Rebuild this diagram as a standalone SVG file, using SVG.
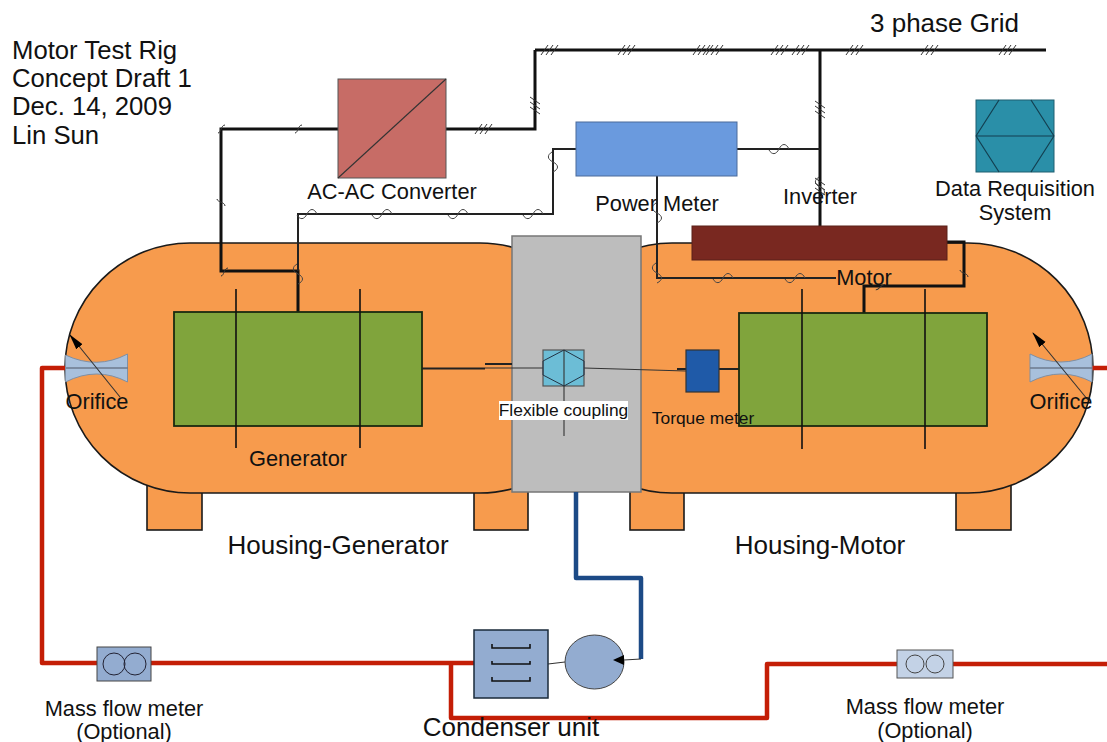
<svg xmlns="http://www.w3.org/2000/svg" xmlns:xlink="http://www.w3.org/1999/xlink" width="1107" height="742" viewBox="0 0 1107 742">
<style>
text{font-family:"Liberation Sans",Arial,sans-serif;fill:#111;transform:translateY(1px)}
.m{text-anchor:middle}
.orange{fill:#f79b4d;stroke:#1a1a1a;stroke-width:1.6}
.green{fill:#80a43c;stroke:#1a2a10;stroke-width:1.8}
.ln{fill:none;stroke:#111;stroke-width:1.6}
.thin{fill:none;stroke:#333;stroke-width:1.1}
.thick{fill:none;stroke:#111;stroke-width:3}
.med{fill:none;stroke:#222;stroke-width:2}
.red{fill:none;stroke:#c41e06;stroke-width:4.5;stroke-linejoin:round}
.blue{fill:none;stroke:#1c4a86;stroke-width:4.5;stroke-linejoin:round}
.tick{fill:none;stroke:#333;stroke-width:1}
.wave{fill:none;stroke:#444;stroke-width:1}
.orf{fill:#a8c0dc;stroke:#7f8fa4;stroke-width:1}
.lg{font-size:26px}
.tl{font-size:25.700px}
.md{font-size:21.800px}
.sm{font-size:17.400px}
</style>
<defs>
<g id="slash"><path class="tick" d="M-9 5L-2 -5M-4 5L3 -5M1 5L8 -5"/></g>
<g id="wavy"><path class="wave" d="M-10 1C-7 6-3 6 0 0C3-6 7-6 10 0"/></g>
<g id="hook"><path class="tick" d="M-3 4C0 4 0 -4 4 -4"/></g>
<marker id="ah" markerWidth="16" markerHeight="10" refX="15" refY="5" orient="auto" markerUnits="userSpaceOnUse"><path d="M0 1L16 5L0 9Z" fill="#000"/></marker>
</defs>

<g id="housing-generator">
<rect class="orange" x="147" y="470" width="55" height="60"/>
<rect class="orange" x="474" y="470" width="54" height="60"/>
<rect class="orange" x="65" y="243" width="540" height="250" rx="125" ry="125"/>
</g>
<g id="housing-motor">
<rect class="orange" x="630" y="470" width="54" height="60"/>
<rect class="orange" x="956" y="470" width="55" height="60"/>
<rect class="orange" x="547" y="243" width="546" height="250" rx="125" ry="125"/>
</g>
<g id="shaft-housing"><rect x="512" y="236" width="129" height="256" fill="#bdbdbd" stroke="#777" stroke-width="1.5"/></g>

<g id="connectors">
<path class="red" d="M66 368H42V663H97M151 663H474M451 663V718H767V664H897M953 664H1107M1091 368H1107"/>
<path class="blue" d="M576 492V578H641V659"/>
<path class="thin" d="M641 659L624 660M548 664L565 662"/>
<path class="thick" d="M535 50H1046M535 50V129H446M820 50V226M338 129H221V271H298V312M947 242H964V286H864V313"/>
<path class="med" d="M576 149H553V214H298V271M737 149H820M657 176V278H836"/>
<path class="med" d="M422 368.500H485M485 364H512M719 369H739M677 369H686"/>
<path class="thin" d="M485 368H543M584 368L686 371"/>
<g>
<use xlink:href="#slash" x="550" y="50"/><use xlink:href="#slash" x="627" y="50"/><use xlink:href="#slash" x="702" y="50"/><use xlink:href="#slash" x="715" y="50"/><use xlink:href="#slash" x="780" y="50"/><use xlink:href="#slash" x="801" y="50"/><use xlink:href="#slash" x="855" y="50"/><use xlink:href="#slash" x="930" y="50"/><use xlink:href="#slash" x="1008" y="50"/><use xlink:href="#slash" x="484" y="129"/>
<use xlink:href="#slash" transform="translate(535 106) rotate(90)"/><use xlink:href="#slash" transform="translate(820 110) rotate(90)"/><use xlink:href="#slash" transform="translate(820 187) rotate(90)"/>
<use xlink:href="#wavy" x="307" y="214"/><use xlink:href="#wavy" x="382" y="214"/><use xlink:href="#wavy" x="458" y="214"/><use xlink:href="#wavy" x="533" y="214"/><use xlink:href="#wavy" x="779" y="149"/><use xlink:href="#wavy" x="723" y="278"/><use xlink:href="#wavy" x="795" y="278"/>
<use xlink:href="#wavy" transform="translate(553 162) rotate(90)"/><use xlink:href="#wavy" transform="translate(657 213) rotate(90)"/><use xlink:href="#wavy" transform="translate(657 273) rotate(90)"/><use xlink:href="#wavy" transform="translate(298 274) rotate(90)"/><use xlink:href="#wavy" transform="translate(820 187) rotate(90)"/>
<use xlink:href="#hook" x="298" y="129"/><use xlink:href="#hook" x="221" y="129"/><use xlink:href="#hook" transform="translate(221 202) rotate(90)"/><use xlink:href="#hook" x="224" y="272"/><use xlink:href="#hook" transform="translate(964 273) rotate(90)"/><use xlink:href="#hook" transform="translate(880 287) rotate(20)"/>
</g>
</g>

<g id="generator">
<rect class="green" x="174" y="312" width="248" height="114"/>
<path class="ln" d="M236 289V448M360 289V448"/>
<text x="298" y="465" class="md m">Generator</text>
</g>
<g id="motor">
<rect class="green" x="739" y="313" width="248" height="113"/>
<path class="ln" d="M802 289V449M925 289V449"/>
</g>
<g id="orifice-left">
<path class="orf" d="M65.500 355Q97 370 127.500 354V382Q97 366 65.500 382Z"/>
<path d="M66 368H128" stroke="#6c7a8e" stroke-width="1.6"/>
<path class="thin" d="M120 397L70 335" marker-end="url(#ah)"/>
<text x="97" y="408" class="md m">Orifice</text>
</g>
<g id="orifice-right">
<path class="orf" d="M1030 354Q1061 370 1092 354V382Q1061 366 1030 382Z"/>
<path d="M1030 368H1092" stroke="#6c7a8e" stroke-width="1.6"/>
<path class="thin" d="M1088 400L1033 333" marker-end="url(#ah)"/>
<text x="1061" y="408" class="md m">Orifice</text>
</g>
<g id="converter">
<rect x="338" y="79" width="108" height="99" fill="#c76c66" stroke="#555" stroke-width="1"/>
<path class="thin" d="M338 178L446 79"/>
<text x="392" y="198" class="md m">AC-AC Converter</text>
</g>
<g id="power-meter">
<rect x="576" y="122" width="161" height="54" fill="#6a9ade" stroke="#4a6a9a" stroke-width="1"/>
<text x="657" y="210" class="md m">Power Meter</text>
</g>
<g id="inverter">
<rect x="692" y="226" width="255" height="34" fill="#792820" stroke="#5a2018" stroke-width="1"/>
<text x="820" y="203" class="md m">Inverter</text>
<text x="864" y="284" class="md m">Motor</text>
</g>
<g id="grid"><text x="870" y="31" class="lg">3 phase Grid</text></g>
<g id="daq">
<rect x="976" y="100" width="78" height="72" fill="#2a8fa8" stroke="#1f5f70" stroke-width="1"/>
<path d="M976 136H1054M976 136L999 100M1054 136L1031 100M976 136L999 172M1054 136L1031 172" stroke="#133f50" stroke-width="1.2" fill="none"/>
<text x="1015" y="195" class="md m">Data Requisition</text>
<text x="1015" y="219" class="md m">System</text>
</g>
<g id="coupling">
<rect x="543" y="350" width="41" height="36" fill="#6cbdd6" stroke="#555" stroke-width="1.2"/>
<path d="M543 361L564 350L584 361V375L564 386L543 375Z" fill="none" stroke="#234" stroke-width="1"/>
<path class="thin" d="M564 350V436"/>
<rect x="499" y="401" width="129" height="19" fill="#fff"/>
<text x="563.500" y="415" class="sm m">Flexible coupling</text>
</g>
<g id="torque-meter">
<rect x="686" y="350" width="33" height="42" fill="#1f5aa8" stroke="#333" stroke-width="1.2"/>
<text x="703" y="423" class="sm m">Torque meter</text>
</g>
<g id="condenser">
<rect x="474" y="630" width="74" height="68" fill="#93acd0" stroke="#1a2a3a" stroke-width="1.5"/>
<path class="ln" d="M492 644V648H530V644M492 661V664H530V661M492 677V681H530V677"/>
<text x="511" y="735" class="lg m">Condenser unit</text>
</g>
<g id="pump">
<ellipse cx="594.500" cy="662" rx="29.500" ry="27" fill="#93acd0" stroke="#444" stroke-width="1"/>
<path d="M624 655V665L613 660Z" fill="#000"/>
</g>
<g id="mass-flow-left">
<rect x="97" y="647" width="54" height="34" fill="#93acd0" stroke="#444" stroke-width="1"/>
<circle cx="114" cy="664" r="11" fill="none" stroke="#223" stroke-width="1"/><circle cx="135" cy="664" r="11" fill="none" stroke="#223" stroke-width="1"/>
<text x="124" y="715" class="md m">Mass flow meter</text>
<text x="124" y="738" class="md m">(Optional)</text>
</g>
<g id="mass-flow-right">
<rect x="897" y="650" width="56" height="28" fill="#c3d2e6" stroke="#555" stroke-width="1"/>
<circle cx="915" cy="664" r="9" fill="none" stroke="#444" stroke-width="1"/><circle cx="935" cy="664" r="9" fill="none" stroke="#444" stroke-width="1"/>
<text x="925" y="713" class="md m">Mass flow meter</text>
<text x="925" y="737" class="md m">(Optional)</text>
</g>
<g id="labels">
<text x="338" y="553" class="lg m">Housing-Generator</text>
<text x="820" y="553" class="lg m">Housing-Motor</text>
<text x="12" y="58" class="tl">Motor Test Rig</text>
<text x="12" y="86" class="tl">Concept Draft 1</text>
<text x="12" y="114" class="tl">Dec. 14, 2009</text>
<text x="12" y="143" class="tl">Lin Sun</text>
</g>
</svg>
